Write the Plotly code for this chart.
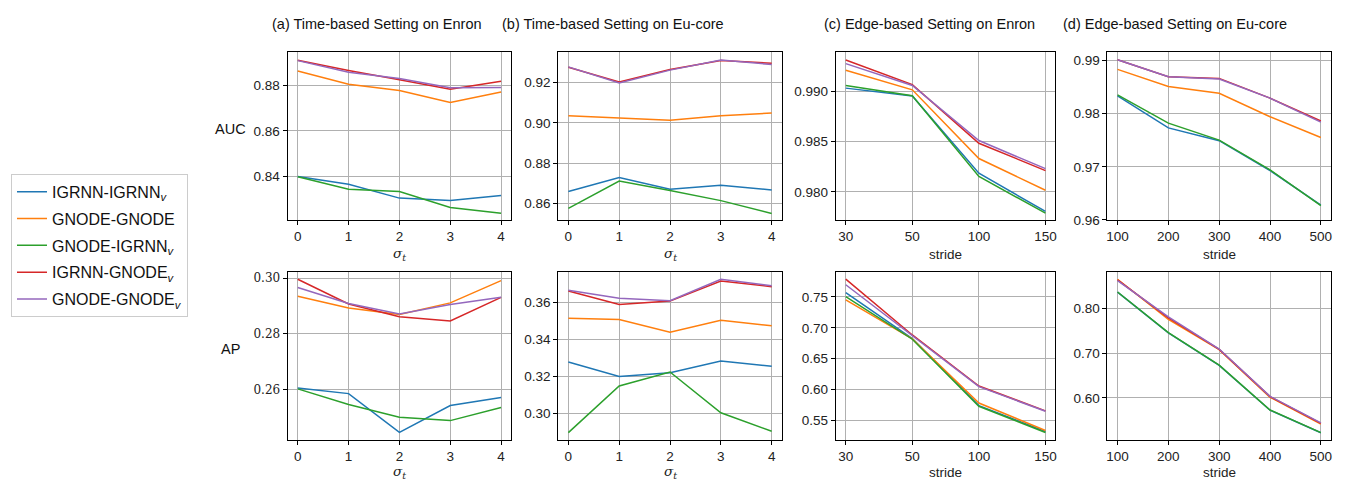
import plotly.graph_objects as go

W, H = 1348, 483

series_names = ["IGRNN-IGRNN<sub><i>v</i></sub>", "GNODE-GNODE", "GNODE-IGRNN<sub><i>v</i></sub>",
                "IGRNN-GNODE<sub><i>v</i></sub>", "GNODE-GNODE<sub><i>v</i></sub>"]
colors = ["#1f77b4", "#ff7f0e", "#2ca02c", "#d62728", "#9467bd"]

sigma_x = [0, 1, 2, 3, 4]
stride_enron = ["30", "50", "100", "150"]
stride_eu = [100, 200, 300, 400, 500]

# AUC rows
auc_a = [
    [0.8400, 0.8366, 0.8305, 0.8294, 0.8316],
    [0.8862, 0.8804, 0.8777, 0.8724, 0.8770],
    [0.8399, 0.8344, 0.8334, 0.8264, 0.8239],
    [0.8910, 0.8865, 0.8824, 0.8783, 0.8817],
    [0.8908, 0.8857, 0.8830, 0.8789, 0.8790],
]
auc_b = [
    [0.8660, 0.8730, 0.8671, 0.8691, 0.8668],
    [0.9036, 0.9024, 0.9013, 0.9036, 0.9049],
    [0.8577, 0.8712, 0.8665, 0.8615, 0.8551],
    [0.9276, 0.9203, 0.9265, 0.9310, 0.9296],
    [0.9278, 0.9198, 0.9262, 0.9312, 0.9290],
]
auc_c = [
    [0.99033, 0.98954, 0.98186, 0.97805],
    [0.99212, 0.99016, 0.98332, 0.98016],
    [0.99059, 0.98958, 0.98153, 0.97788],
    [0.99313, 0.99068, 0.98484, 0.98212],
    [0.99277, 0.99059, 0.98511, 0.98231],
]
auc_d = [
    [0.9833, 0.9773, 0.9749, 0.9693, 0.9628],
    [0.9883, 0.9851, 0.9838, 0.9794, 0.9755],
    [0.9835, 0.9782, 0.9750, 0.9694, 0.9627],
    [0.9901, 0.9869, 0.9866, 0.9829, 0.9786],
    [0.9901, 0.9869, 0.9865, 0.9829, 0.9784],
]
# AP rows
ap_a = [
    [0.2605, 0.2585, 0.2446, 0.2542, 0.2571],
    [0.2935, 0.2893, 0.2869, 0.2911, 0.2991],
    [0.2602, 0.2546, 0.2500, 0.2488, 0.2535],
    [0.2996, 0.2907, 0.2861, 0.2846, 0.2931],
    [0.2966, 0.2909, 0.2871, 0.2905, 0.2931],
]
ap_b = [
    [0.3279, 0.3200, 0.3221, 0.3284, 0.3256],
    [0.3515, 0.3508, 0.3439, 0.3504, 0.3474],
    [0.2898, 0.3149, 0.3225, 0.3005, 0.2905],
    [0.3662, 0.3589, 0.3607, 0.3715, 0.3685],
    [0.3665, 0.3623, 0.3609, 0.3725, 0.3690],
]
ap_c = [
    [0.7569, 0.6825, 0.5741, 0.5323],
    [0.7452, 0.6820, 0.5783, 0.5339],
    [0.7505, 0.6815, 0.5730, 0.5307],
    [0.7786, 0.6884, 0.6058, 0.5656],
    [0.7696, 0.6868, 0.6048, 0.5651],
]
ap_d = [
    [0.8370, 0.7460, 0.6730, 0.5725, 0.5220],
    [0.8659, 0.7758, 0.7081, 0.6015, 0.5414],
    [0.8374, 0.7465, 0.6733, 0.5729, 0.5223],
    [0.8645, 0.7795, 0.7088, 0.6029, 0.5429],
    [0.8630, 0.7817, 0.7095, 0.6037, 0.5443],
]

titles = ["(a) Time-based Setting on Enron", "(b) Time-based Setting on Eu-core",
          "(c) Edge-based Setting on Enron", "(d) Edge-based Setting on Eu-core"]
xlabels = ["<i>σ</i><sub><i>t</i></sub>", "<i>σ</i><sub><i>t</i></sub>", "stride", "stride"]

# layout in pixels
col_px = [(279, 503), (550, 774), (828, 1048), (1100, 1324)]
row_px = [(44, 215), (268, 439)]
title_cx = [369, 605, 922, 1168]

FONT = "Liberation Sans"
fig = go.Figure()

panels = [
    (0, 0, sigma_x, auc_a, [0.8209, 0.8945], [0.84, 0.86, 0.88], ["0.84", "0.86", "0.88"], False),
    (0, 1, sigma_x, auc_b, [0.8519, 0.9351], [0.86, 0.88, 0.90, 0.92], ["0.86", "0.88", "0.90", "0.92"], False),
    (0, 2, stride_enron, auc_c, [0.9772, 0.99391], [0.980, 0.985, 0.990], ["0.980", "0.985", "0.990"], False),
    (0, 3, stride_eu, auc_d, [0.9600, 0.99153], [0.96, 0.97, 0.98, 0.99], ["0.96", "0.97", "0.98", "0.99"], False),
    (1, 0, sigma_x, ap_a, [0.2419, 0.3022], [0.26, 0.28, 0.30], ["0.26", "0.28", "0.30"], True),
    (1, 1, sigma_x, ap_b, [0.2859, 0.3764], [0.30, 0.32, 0.34, 0.36], ["0.30", "0.32", "0.34", "0.36"], False),
    (1, 2, stride_enron, ap_c, [0.5188, 0.7902], [0.55, 0.60, 0.65, 0.70, 0.75], ["0.55", "0.60", "0.65", "0.70", "0.75"], False),
    (1, 3, stride_eu, ap_d, [0.5062, 0.8821], [0.60, 0.70, 0.80], ["0.60", "0.70", "0.80"], False),
]

for k, (r, c, xs, data, yr, tv, tt, serif) in enumerate(panels):
    idx = k + 1
    xa = "x" if idx == 1 else f"x{idx}"
    ya = "y" if idx == 1 else f"y{idx}"
    for s in range(5):
        fig.add_trace(go.Scatter(x=xs, y=data[s], mode="lines", name=series_names[s],
                                 legendgroup=f"g{s}",
                                 line=dict(color=colors[s], width=1.5),
                                 xaxis=xa, yaxis=ya, showlegend=(idx == 1)))
    x0, x1 = col_px[c]
    y0, y1 = row_px[r]
    common = dict(showline=True, linecolor="black", linewidth=1, mirror=True,
                  showgrid=True, gridcolor="#b0b0b0", gridwidth=1,
                  ticks="outside", ticklen=4, tickcolor="black", zeroline=False,
                  tickfont=dict(family=FONT, size=13.5, color="#222"))
    if c in (0, 1):
        xaxis = dict(domain=[x0 / W, x1 / W], range=[-0.2, 4.2], tickvals=sigma_x, anchor=ya, **common)
    elif c == 2:
        xaxis = dict(domain=[x0 / W, x1 / W], type="category", range=[-0.15, 3.15], anchor=ya, **common)
    else:
        xaxis = dict(domain=[x0 / W, x1 / W], range=[80, 520], tickvals=stride_eu, anchor=ya, **common)
    ycommon = dict(common)
    if serif:
        ycommon["tickfont"] = dict(family="DejaVu Serif", size=12, color="#222")
    yaxis = dict(domain=[1 - y1 / H, 1 - y0 / H], range=yr, tickvals=tv, ticktext=tt, anchor=xa, **ycommon)
    fig.layout["xaxis" if idx == 1 else f"xaxis{idx}"] = xaxis
    fig.layout["yaxis" if idx == 1 else f"yaxis{idx}"] = yaxis

annotations = []
for c in range(4):
    annotations.append(dict(text=titles[c], x=title_cx[c] / W, y=1 - 15 / H, xref="paper", yref="paper",
                            showarrow=False, xanchor="center", yanchor="middle",
                            font=dict(family=FONT, size=14.5, color="#111")))
    cx = (col_px[c][0] + col_px[c][1]) / 2 / W
    for r, ypx in enumerate([250, 472]):
        fam = "DejaVu Serif" if c in (0, 1) else FONT
        annotations.append(dict(text=xlabels[c], x=cx, y=1 - ypx / H, xref="paper", yref="paper",
                                showarrow=False, xanchor="center", yanchor="middle",
                                font=dict(family=fam, size=13.5, color="#222")))
annotations.append(dict(text="AUC", x=222 / W, y=1 - 122 / H, xref="paper", yref="paper",
                        showarrow=False, xanchor="center", yanchor="middle",
                        font=dict(family=FONT, size=14.5, color="#111")))
annotations.append(dict(text="AP", x=222 / W, y=1 - 346 / H, xref="paper", yref="paper",
                        showarrow=False, xanchor="center", yanchor="middle",
                        font=dict(family=FONT, size=14.5, color="#111")))

fig.update_layout(
    width=W, height=H, margin=dict(l=0, r=0, t=0, b=0),
    paper_bgcolor="white", plot_bgcolor="white",
    annotations=annotations,
    legend=dict(x=2 / W, y=1 - 168 / H, xanchor="left", yanchor="top",
                bordercolor="#cccccc", borderwidth=1, bgcolor="white",
                font=dict(family=FONT, size=16, color="#111"), tracegroupgap=3),
)

fig.write_html("out.html")
